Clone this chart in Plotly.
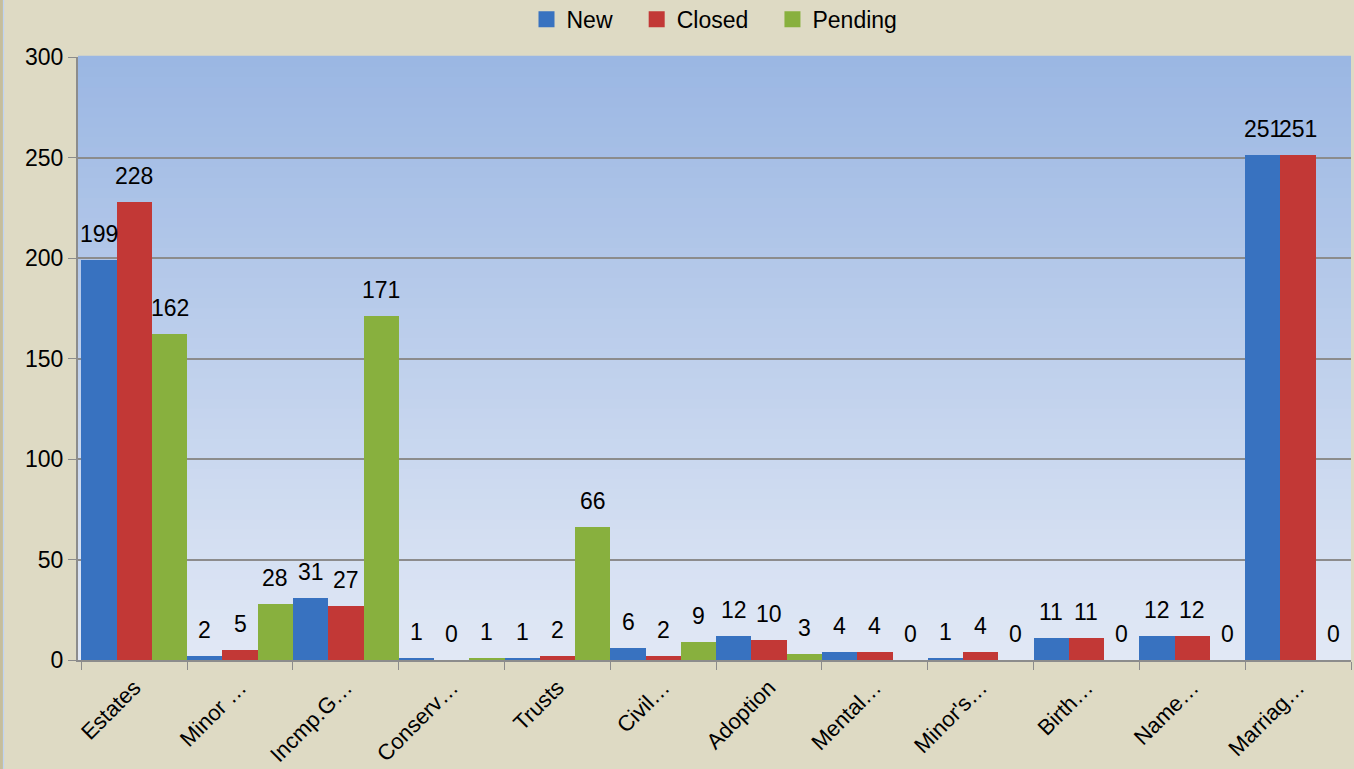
import plotly.graph_objects as go

categories = ["Estates", "Minor …", "Incmp.G…", "Conserv…", "Trusts", "Civil…",
              "Adoption", "Mental…", "Minor's…", "Birth…", "Name…", "Marriag…"]
new_vals = [199, 2, 31, 1, 1, 6, 12, 4, 1, 11, 12, 251]
closed_vals = [228, 5, 27, 0, 2, 2, 10, 4, 4, 11, 12, 251]
pending_vals = [162, 28, 171, 1, 66, 9, 3, 0, 0, 0, 0, 0]

series = [("New", new_vals, "#3872C0"),
          ("Closed", closed_vals, "#C23836"),
          ("Pending", pending_vals, "#88B03E")]

FONT = "Liberation Sans"
W, H = 1354, 769
ML, MR, MT, MB = 78, 3, 57, 109
PW, PH = W - ML - MR, H - MT - MB
PAD = "\u00a0" * 3  # extra spacing after legend entries

fig = go.Figure()
nser = len(series)
annotations = []
for k, (name, vals, color) in enumerate(series):
    fig.add_trace(go.Bar(
        name=name, x=categories, y=vals,
        marker=dict(color=color, line=dict(width=0)),
        showlegend=False, cliponaxis=False, hoverinfo="skip",
    ))
    # legend entry with square swatch
    fig.add_trace(go.Scatter(
        name=name + (PAD if k < nser - 1 else ""), x=[None], y=[None], mode="markers",
        marker=dict(symbol="square", size=16, color=color),
        showlegend=True,
    ))
    offset = (k - (nser - 1) / 2) / nser
    for i, v in enumerate(vals):
        annotations.append(dict(
            x=i + offset, y=v, xref="x", yref="y", text=str(v),
            showarrow=False, yanchor="bottom", xanchor="center", yshift=11,
            font=dict(family=FONT, size=23, color="#000000"),
        ))

# vertical gradient background in the plot area
top = (0x9B, 0xB7, 0xE3)
bot = (0xE1, 0xE8, 0xF5)
n = 60
shapes = []
for i in range(n):
    t = i / (n - 1)
    c = tuple(round(bot[j] + (top[j] - bot[j]) * t) for j in range(3))
    shapes.append(dict(type="rect", xref="x domain", yref="y domain",
                       x0=0, x1=1, y0=i / n, y1=(i + 1) / n + 0.002,
                       fillcolor="rgb(%d,%d,%d)" % c, line=dict(width=0),
                       layer="below"))
# chart frame strip on the left edge
shapes.append(dict(type="rect", xref="paper", yref="paper",
                   x0=-ML / PW, x1=-(ML - 3) / PW, y0=-MB / PH, y1=1 + MT / PH,
                   fillcolor="#C6BE9C", line=dict(width=0), layer="below"))
shapes.append(dict(type="line", xref="paper", yref="paper",
                   x0=-(ML - 3.5) / PW, x1=-(ML - 3.5) / PW, y0=-MB / PH, y1=1 + MT / PH,
                   line=dict(color="#BFD3F2", width=1.2), layer="below"))

fig.update_layout(
    width=W, height=H,
    paper_bgcolor="#DEDAC4", plot_bgcolor="#C0D0EC",
    margin=dict(l=ML, r=MR, t=MT, b=MB, autoexpand=False),
    barmode="group", bargap=0, bargroupgap=0,
    shapes=shapes, annotations=annotations,
    font=dict(family=FONT, size=23, color="#000000"),
    legend=dict(orientation="h", x=0.5, xanchor="center", y=0.975, yref="container",
                yanchor="middle", font=dict(family=FONT, size=23),
                bgcolor="rgba(0,0,0,0)", itemwidth=30, traceorder="normal"),
    showlegend=True,
    hovermode=False,
)
fig.update_yaxes(range=[0, 300], dtick=50, showgrid=True, gridcolor="#8C8C8C",
                 gridwidth=1.5, showline=True, linecolor="#8C8C8C", linewidth=2,
                 ticks="outside", ticklen=8, tickcolor="#8C8C8C",
                 tickfont=dict(family=FONT, size=23), zeroline=False, automargin=False)
fig.update_xaxes(showline=True, linecolor="#8C8C8C", linewidth=2,
                 ticks="outside", ticklen=8, tickcolor="#8C8C8C", tickson="boundaries",
                 tickangle=-45, tickfont=dict(family=FONT, size=22), showgrid=False,
                 ticklabelstandoff=4, automargin=False)

fig.write_html("out.html", config={"displayModeBar": False},
               post_script="document.body.style.margin='0';document.body.style.overflow='hidden';")
